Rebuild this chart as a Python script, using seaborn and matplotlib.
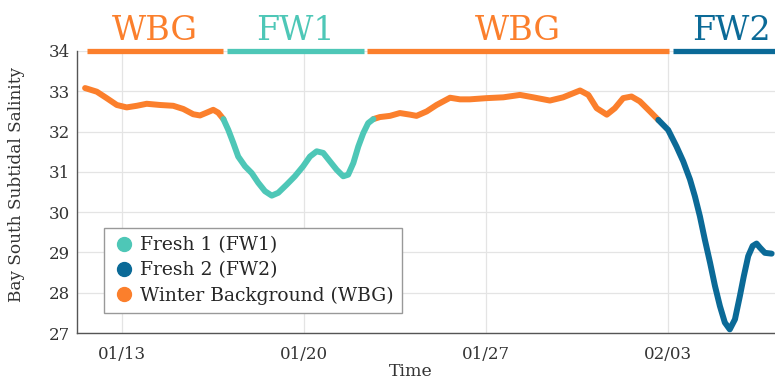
import numpy as np
import pandas as pd
import matplotlib
matplotlib.use("Agg")
import matplotlib.pyplot as plt
from matplotlib.lines import Line2D
import seaborn as sns

# Subtidal salinity record, time in day-of-year (Jan 1 = 1)
wbg1_t = [11.58, 12.03, 12.41, 12.80, 13.18, 13.57, 13.95, 14.46, 14.97, 15.36,
          15.74, 16.00, 16.26, 16.51, 16.70, 16.90]
wbg1_s = [33.08, 32.99, 32.83, 32.66, 32.60, 32.64, 32.69, 32.66, 32.64, 32.56,
          32.43, 32.40, 32.47, 32.54, 32.47, 32.31]

fw1_t = [16.90, 17.09, 17.28, 17.47, 17.73, 17.99, 18.24, 18.50, 18.76, 19.01,
         19.33, 19.65, 19.97, 20.23, 20.49, 20.74, 21.00, 21.26, 21.51, 21.70,
         21.90, 22.09, 22.28, 22.47, 22.67]
fw1_s = [32.31, 32.04, 31.72, 31.38, 31.14, 30.97, 30.73, 30.52, 30.41, 30.48,
         30.68, 30.89, 31.14, 31.38, 31.51, 31.47, 31.26, 31.05, 30.89, 30.93,
         31.22, 31.63, 31.96, 32.21, 32.31]

wbg2_t = [22.67, 22.92, 23.31, 23.69, 24.08, 24.33, 24.72, 25.10, 25.62, 26.00,
          26.38, 27.03, 27.67, 28.31, 28.82, 29.46, 29.97, 30.62, 30.94, 31.26,
          31.65, 31.96, 32.28, 32.60, 32.92, 33.31, 33.63]
wbg2_s = [32.31, 32.36, 32.39, 32.46, 32.42, 32.39, 32.50, 32.66, 32.84, 32.80,
          32.80, 32.83, 32.85, 32.91, 32.85, 32.77, 32.85, 33.02, 32.91, 32.58,
          32.42, 32.58, 32.83, 32.87, 32.75, 32.50, 32.29]

fw2_t = [33.63, 34.01, 34.33, 34.59, 34.85, 35.04, 35.23, 35.42, 35.62, 35.81,
         36.00, 36.19, 36.38, 36.58, 36.77, 36.92, 37.09, 37.26, 37.41, 37.54,
         37.73, 37.99]
fw2_s = [32.29, 32.04, 31.63, 31.26, 30.81, 30.39, 29.90, 29.32, 28.75, 28.17,
         27.67, 27.26, 27.09, 27.34, 27.92, 28.41, 28.91, 29.16, 29.22, 29.12,
         28.99, 28.97]

# Regime periods shown as bars along the top (start day, end day)
period_names = ["WBG", "FW1", "WBG", "FW2"]
period_start = [11.65, 17.03, 22.43, 34.18]
period_end = [16.87, 22.31, 34.05, 38.3]
period_label_x = [14.26, 19.67, 28.24, 36.45]

regime_labels = ["Fresh 1 (FW1)", "Fresh 2 (FW2)", "Winter Background (WBG)"]
colors = {"WBG": "#FB7F2C", "FW1": "#4EC7B7", "FW2": "#0B6A97"}

tick_days = [13, 20, 27, 34]
tick_labels = ["01/13", "01/20", "01/27", "02/03"]

segments = [("WBG", wbg1_t, wbg1_s), ("FW1", fw1_t, fw1_s),
            ("WBG", wbg2_t, wbg2_s), ("FW2", fw2_t, fw2_s)]
frames = []
for i, (name, t, s) in enumerate(segments):
    frames.append(pd.DataFrame({"day": t, "salinity": s, "regime": name, "seg": i}))
df = pd.concat(frames, ignore_index=True)

sns.set_style("white")
plt.rcParams["font.family"] = ["DejaVu Serif"]

fig = plt.figure(figsize=(7.75, 3.84), dpi=100)
ax = fig.add_axes([0.0994, 0.1328, 0.9006, 0.7344])

sns.lineplot(data=df, x="day", y="salinity", hue="regime", units="seg",
             estimator=None, palette=colors, linewidth=4.3, legend=False,
             ax=ax, solid_capstyle="round", solid_joinstyle="round", zorder=3)

ax.set_xlim(11.27, 38.12)
ax.set_ylim(27, 34)
ax.set_xticks(tick_days)
ax.set_xticklabels(tick_labels)
ax.set_yticks(range(27, 35))
ax.grid(True, color="#e4e4e4", linewidth=0.9)
ax.set_axisbelow(True)

for side in ["top", "right"]:
    ax.spines[side].set_visible(False)
for side in ["left", "bottom"]:
    ax.spines[side].set_color("#555555")
    ax.spines[side].set_linewidth(1.0)

ax.tick_params(axis="x", direction="in", length=5, color="#555555",
               labelsize=12, labelcolor="#333333", pad=9)
ax.tick_params(axis="y", direction="out", length=3.5, color="#555555",
               labelsize=12, labelcolor="#333333", pad=1.5)
ax.set_xlabel("Time", fontsize=12.5, color="#333333")
ax.set_ylabel("Bay South Subtidal Salinity", fontsize=12.2, color="#333333")
ax.xaxis.set_label_coords(0.478, -0.108)
ax.yaxis.set_label_coords(-0.075, 0.525)

# Regime bars and names above the record
for name, a, b, lx in zip(period_names, period_start, period_end, period_label_x):
    ax.plot([a, b], [34, 34], color=colors[name], linewidth=3.8,
            solid_capstyle="butt", clip_on=False, zorder=4)
    ax.text(lx, 34.27, name, color=colors[name], fontsize=24,
            ha="center", va="baseline", clip_on=False)

handles = [Line2D([], [], marker="o", linestyle="", markersize=10,
                  markerfacecolor=colors[k], markeredgecolor=colors[k])
           for k in ["FW1", "FW2", "WBG"]]
leg = ax.legend(handles, regime_labels, loc="lower left",
                bbox_to_anchor=(0.038, 0.072), fontsize=13.5, frameon=True,
                fancybox=False, framealpha=1, edgecolor="#999999",
                handletextpad=0.25, borderpad=0.42, labelspacing=0.38,
                handlelength=1.3, borderaxespad=0)
leg.get_frame().set_linewidth(1.0)

fig.savefig("out.png", dpi=100)
